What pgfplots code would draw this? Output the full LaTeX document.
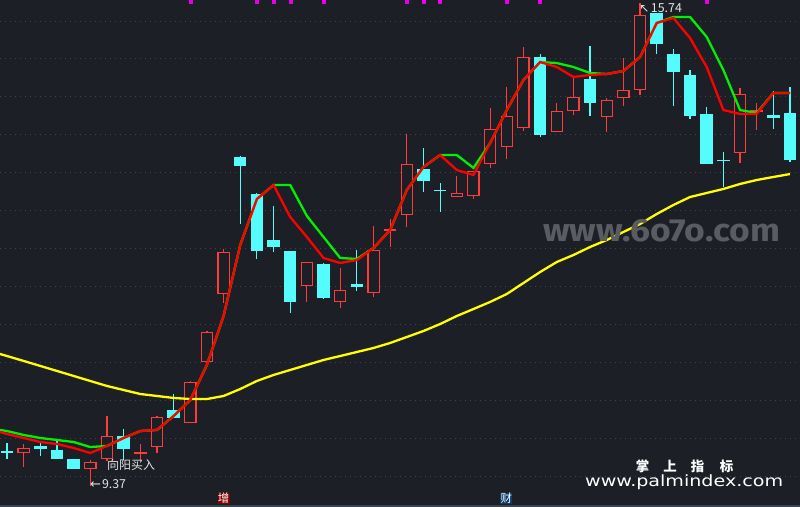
\documentclass[border=0pt]{standalone}
\usepackage{fontspec}
\setmainfont{Noto Sans CJK SC}
\newfontfamily\dejavu{DejaVu Sans}
\newfontfamily\wmfont{Fira Sans}
\usepackage{graphicx}
\usepackage{pgfplots}
\usepackage{pgfplotstable}
\pgfplotsset{compat=1.18}
\definecolor{bgc}{HTML}{1C1F26}
\definecolor{gridc}{HTML}{3E434E}
\definecolor{candred}{HTML}{FF3C3C}
\definecolor{candcyan}{HTML}{54FCFC}
\definecolor{mared}{HTML}{FF0000}
\definecolor{magreen}{HTML}{00F000}
\definecolor{mayellow}{HTML}{FFFF00}
\definecolor{txtc}{HTML}{E4E4E4}
\definecolor{wmc}{HTML}{5A5C62}
\definecolor{zengc}{HTML}{820000}
\definecolor{caic}{HTML}{0C3A6C}
\definecolor{linec}{HTML}{3A4350}
\definecolor{magc}{HTML}{E600E6}

\pgfplotsset{
  candle/.style 2 args={only marks, mark=*, mark size=0pt,
    mark options={draw=none, fill=none, opacity=0}, forget plot,
    error bars/.cd, y dir=plus, y explicit, error mark=none,
    error bar style={draw=#1, line width=#2, opacity=1}},
}

% red (rising) candles: x, body bottom, body top, high, low
\pgfplotstableread{
x bot top high low
1 9.803 9.869 9.922 9.619
5 9.592 9.685 9.711 9.370
6 9.724 10.027 10.291 9.698
8 9.796 9.810 9.922 9.698
9 9.882 10.278 10.291 9.803
11 10.199 10.740 10.753 10.199
12 11.003 11.399 11.412 11.003
13 11.900 12.454 12.493 11.781
18 12.006 12.322 12.322 11.795
20 11.795 11.953 12.243 11.715
22 11.913 12.480 12.797 11.861
23 12.731 12.757 12.889 12.520
24 12.942 13.614 14.010 12.784
27 13.179 13.232 13.456 13.179
28 13.192 13.522 13.522 13.153
29 13.614 14.076 14.353 13.562
30 13.839 14.247 14.630 13.680
31 14.089 15.025 15.157 14.050
33 14.036 14.313 14.419 14.036
34 14.313 14.498 14.762 14.261
36 14.234 14.458 14.485 14.036
37 14.485 14.590 15.012 14.379
38 14.590 15.579 15.740 14.524
44 13.759 14.537 14.617 13.628
45 14.300 14.326 14.419 14.063
}\redc

% cyan (falling) candles
\pgfplotstableread{
x bot top high low
0 9.807 9.826 9.935 9.724
2 9.856 9.896 9.935 9.764
3 9.724 9.843 9.962 9.724
4 9.592 9.724 9.724 9.592
7 9.856 10.027 10.120 9.711
10 10.265 10.370 10.581 10.265
14 13.588 13.707 13.720 12.823
15 12.467 13.219 13.232 12.362
16 12.520 12.612 13.061 12.454
17 11.795 12.467 12.467 11.650
19 11.847 12.296 12.309 11.834
21 11.992 12.032 12.480 11.940
25 13.390 13.548 13.825 13.245
26 13.252 13.265 13.364 12.981
32 13.997 15.025 15.065 13.970
35 14.419 14.735 15.170 14.247
39 15.197 15.606 15.606 15.065
40 14.828 15.065 15.131 14.379
41 14.247 14.788 14.854 14.208
42 13.614 14.274 14.366 13.614
43 13.648 13.665 13.773 13.311
46 14.221 14.261 14.577 14.076
47 13.667 14.287 14.630 13.641
}\cyanc

% moving-average style lines
\pgfplotstableread{
x red green yellow
-0.42 10.080 10.107 11.109
0 10.054 10.093 11.082
1 10.001 10.041 11.017
2 9.948 10.001 10.951
3 9.922 9.975 10.885
4 9.869 9.948 10.819
5 9.803 9.882 10.753
6 9.896 9.896 10.687
7 10.001 10.001 10.634
8 10.093 10.093 10.581
9 10.107 10.107 10.555
10 10.291 10.291 10.529
11 10.502 10.502 10.515
12 10.964 10.964 10.515
13 11.610 11.610 10.555
14 12.546 12.546 10.647
15 13.153 13.153 10.753
16 13.337 13.337 10.832
17 12.915 13.337 10.898
18 12.652 12.929 10.964
19 12.375 12.652 11.030
20 12.309 12.375 11.082
21 12.348 12.362 11.135
22 12.507 12.507 11.188
23 12.744 12.744 11.254
24 13.272 13.272 11.333
25 13.575 13.575 11.412
26 13.733 13.733 11.504
27 13.535 13.733 11.610
28 13.469 13.562 11.702
29 13.891 13.891 11.795
30 14.326 14.326 11.900
31 14.722 14.722 12.045
32 14.959 14.959 12.190
33 14.893 14.946 12.322
34 14.762 14.893 12.414
35 14.788 14.814 12.520
36 14.801 14.801 12.612
37 14.841 14.841 12.718
38 15.025 15.025 12.823
39 15.474 15.474 12.955
40 15.540 15.553 13.074
41 15.276 15.553 13.179
42 14.893 15.289 13.232
43 14.326 14.854 13.285
44 14.274 14.326 13.351
45 14.274 14.287 13.403
46 14.551 14.551 13.443
47 14.551 14.551 13.482
}\lines

\begin{document}
\begin{tikzpicture}
\begin{axis}[
  scale only axis, width=800bp, height=507bp,
  xmin=-0.42, xmax=47.6, ymin=9.091, ymax=15.777,
  axis background/.style={fill=bgc},
  axis line style={draw=none},
  xtick=\empty,
  ytick={9.5,10,10.5,11,11.5,12,12.5,13,13.5,14,14.5,15,15.5},
  yticklabels={},
  major tick length=0pt,
  ymajorgrids,
  grid style={gridc, line width=0.9bp, dash pattern=on 1bp off 4bp},
  clip mode=individual,
]
% wicks
\addplot[candle={candred}{1.2bp}]
  table[x=x, y=low, y error expr=\thisrow{high}-\thisrow{low}] {\redc};
\addplot[candle={candcyan}{1.2bp}]
  table[x=x, y=low, y error expr=\thisrow{high}-\thisrow{low}] {\cyanc};
% red hollow bodies
\addplot[candle={candred}{12.5bp}]
  table[x=x, y=bot, y error expr=\thisrow{top}-\thisrow{bot}] {\redc};
\addplot[candle={bgc}{10bp}]
  table[x=x, y expr=\thisrow{bot}+0.017, y error expr={max(\thisrow{top}-\thisrow{bot}-0.034,0)}] {\redc};
% cyan filled bodies
\addplot[candle={candcyan}{12.5bp}]
  table[x=x, y=bot, y error expr=\thisrow{top}-\thisrow{bot}] {\cyanc};
% lines
\addplot[mayellow, line width=2.3bp, mark=none] table[x=x, y=yellow] {\lines};
\addplot[magreen, line width=2.3bp, mark=none] table[x=x, y=green] {\lines};
\addplot[mared, line width=2.3bp, mark=none] table[x=x, y=red] {\lines};
% top markers
\addplot[only marks, mark=square*, mark size=1.5bp, color=magc] coordinates {
(11,15.757) (15,15.757) (16,15.757) (17,15.757) (19,15.757) (24,15.757)
(25,15.757) (26,15.757) (30,15.757) (32,15.757) (42,15.757)};

% texts
\node[anchor=west, inner sep=0pt, text=txtc, font=\fontsize{12}{12}\selectfont] at (axis cs:6.0,9.639) {向阳买入};
\node[anchor=west, inner sep=0pt, text=txtc] at (axis cs:4.98,9.394)
  {{\dejavu\fontsize{13}{13}\selectfont ←}\hspace{1bp}\resizebox{24bp}{!}{9.37}};
\node[anchor=west, inner sep=0pt, text=txtc] at (axis cs:37.95,15.672)
  {{\dejavu\fontsize{12}{12}\selectfont ↖}\hspace{1.5bp}\resizebox{31bp}{!}{15.74}};
\node[inner sep=0pt, text=white, font=\bfseries\fontsize{13.5}{13.5}\selectfont] at (axis cs:38.15,9.632) {掌};
\node[inner sep=0pt, text=white, font=\bfseries\fontsize{13.5}{13.5}\selectfont] at (axis cs:39.80,9.632) {上};
\node[inner sep=0pt, text=white, font=\bfseries\fontsize{13.5}{13.5}\selectfont] at (axis cs:41.45,9.632) {指};
\node[inner sep=0pt, text=white, font=\bfseries\fontsize{13.5}{13.5}\selectfont] at (axis cs:43.19,9.632) {标};
\node[anchor=west, inner sep=0pt, text=white] at (axis cs:34.69,9.421)
  {\resizebox*{198bp}{15bp}{\dejavu www.palmindex.com}};
\node[anchor=west, inner sep=0pt, text=wmc] at (axis cs:32.17,12.731)
  {\resizebox{237bp}{22bp}{\wmfont\bfseries www.6o7o.com}};
\node[fill=zengc, text=white, inner sep=0.3bp, font=\fontsize{11.5}{11.5}\selectfont] at (axis cs:13.0,9.203) {增};
\node[fill=caic, text=white, inner sep=0.3bp, font=\fontsize{11.5}{11.5}\selectfont] at (axis cs:29.98,9.203) {财};
\draw[linec, line width=1.6bp] (axis cs:-0.42,9.101) -- (axis cs:47.6,9.101);
\end{axis}
\pgfresetboundingbox
\path[use as bounding box] (current axis.south west) rectangle (current axis.north east);
\end{tikzpicture}
\end{document}
